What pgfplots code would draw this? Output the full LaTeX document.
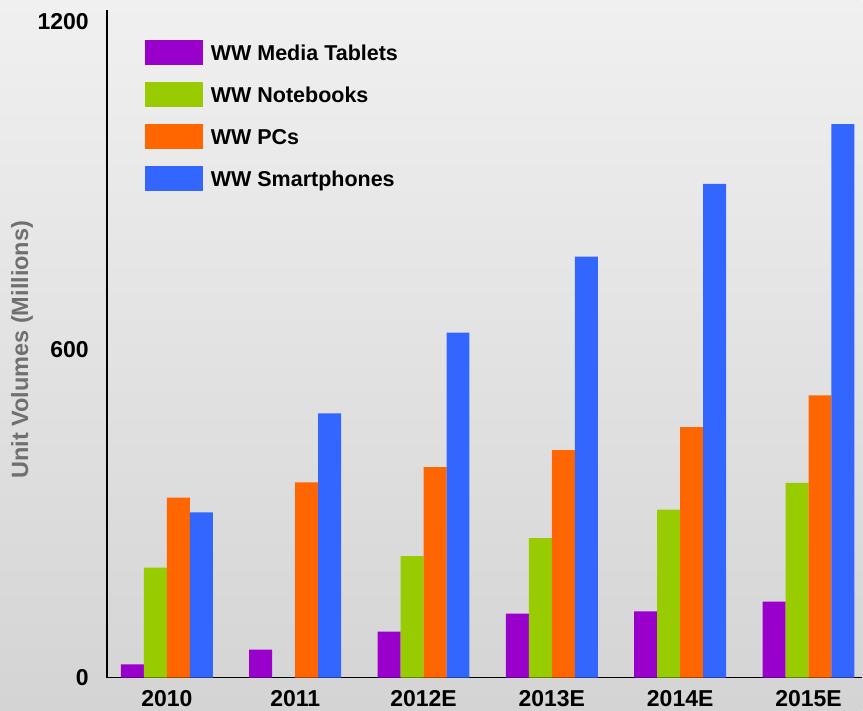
\documentclass[border=0pt]{standalone}
\usepackage{pgfplots}
\pgfplotsset{compat=1.18}
\usepackage{fontspec}
\setmainfont{Liberation Sans}
\definecolor{ctab}{HTML}{9900CC}
\definecolor{cnb}{HTML}{99CC00}
\definecolor{cpc}{HTML}{FF6600}
\definecolor{csp}{HTML}{3366FF}
\definecolor{bgtop}{HTML}{F0F0F0}
\definecolor{bgbot}{HTML}{D4D4D4}
\definecolor{labgray}{HTML}{707070}
\pgfplotsset{legbox/.style={legend image code/.code={\fill[##1] (0pt,-12.5pt) rectangle (58pt,12.5pt);}}}
\begin{document}
\begin{tikzpicture}
\shade[top color=bgtop, bottom color=bgbot] (-107pt,-33pt) rectangle (756pt,678pt);
\begin{axis}[
  at={(0pt,0pt)}, anchor=south west,
  scale only axis, width=756pt, height=668pt,
  xmin=-0.467, xmax=5.42, ymin=0, ymax=1221,
  axis x line=bottom, axis y line=left,
  axis line style={-, line width=1.2pt, black},
  major tick length=0pt,
  ybar=0pt, bar width=23pt,
  xtick={0,1,2,3,4,5},
  xticklabels={2010,2011,2012E,2013E,2014E,2015E},
  ytick={0,600,1200},
  /pgf/number format/assume math mode=true,
  /pgf/number format/1000 sep={},
  ticklabel style={font=\bfseries\fontsize{23}{27}\selectfont, text=black},
  yticklabel style={anchor=east, inner sep=0pt, xshift=-18pt},
  xticklabel style={anchor=north, inner sep=0pt, yshift=-13pt},
  ylabel={Unit Volumes (Millions)},
  every axis y label/.style={at={(rel axis cs:0,0.491)}, xshift=-85pt, rotate=90, anchor=center, font=\bfseries\fontsize{23.5}{27}\selectfont, text=labgray},
  legend cell align=left,
  legend style={at={(rel axis cs:0.0503,0.9551)}, anchor=north west, draw=none, fill=none,
    inner sep=0pt, outer sep=0pt, row sep=17pt, column sep=8pt,
    font=\bfseries\fontsize{21.5}{24}\selectfont,
    nodes={inner sep=0pt, anchor=west, text height=15.4pt, text depth=0pt}},
]
\addplot[draw=none, fill=ctab, legbox] coordinates {(0,24)(1,51)(2,84)(3,117)(4,121)(5,139)};
\addplot[draw=none, fill=cnb, legbox] coordinates {(0,201)(2,222)(3,255)(4,307)(5,356)};
\addplot[draw=none, fill=cpc, legbox] coordinates {(0,329)(1,357)(2,385)(3,416)(4,458)(5,516)};
\addplot[draw=none, fill=csp, legbox] coordinates {(0,302)(1,483)(2,631)(3,770)(4,903)(5,1012)};
\legend{WW Media Tablets, WW Notebooks, WW PCs, WW Smartphones}
\end{axis}
\end{tikzpicture}
\end{document}
